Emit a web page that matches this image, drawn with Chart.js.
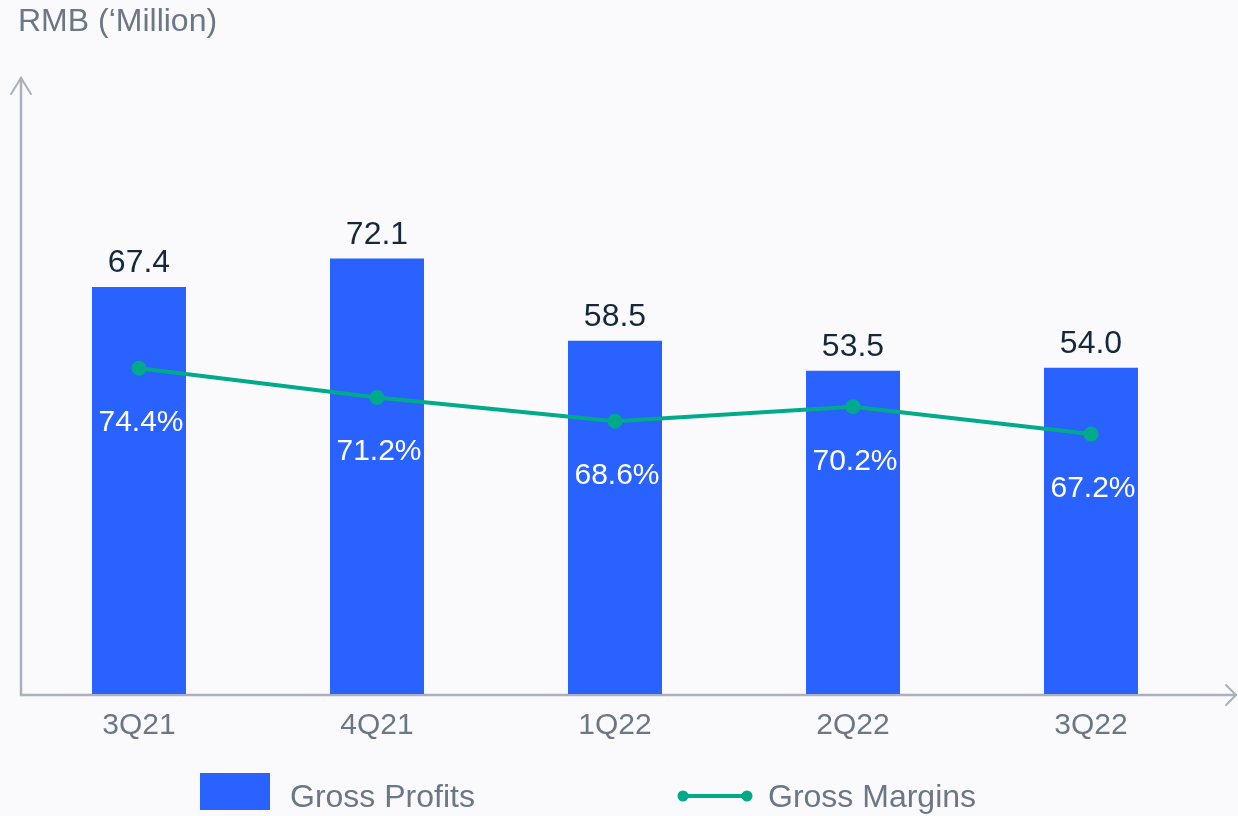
<!DOCTYPE html>
<html>
<head>
<meta charset="utf-8">
<script src="https://cdn.jsdelivr.net/npm/chart.js@4"></script>
<style>
	html, body { margin: 0; padding: 0; background: #fafafd; }
	#wrap { width: 1238px; height: 816px; }
</style>
</head>
<body>
<div id="wrap"><canvas id="chart"></canvas></div>
<script>
'use strict';

var QUARTERS = ['3Q21', '4Q21', '1Q22', '2Q22', '3Q22'];
var GROSS_PROFITS = [67.4, 72.1, 58.5, 53.5, 54.0];
var GROSS_MARGINS = [74.4, 71.2, 68.6, 70.2, 67.2];

var BLUE = '#2962ff';
var GREEN = '#00aa8a';
var AXIS = '#aab1ba';
var GREY_TEXT = '#6b7786';
var DARK_TEXT = '#15283b';
var FONT = '"Liberation Sans", Arial, sans-serif';

var decorations = {
	id: 'decorations',
	beforeDraw: function(chart) {
		var ctx = chart.ctx;
		ctx.save();
		ctx.fillStyle = '#fafafd';
		ctx.fillRect(0, 0, chart.width, chart.height);
		ctx.restore();
	},
	beforeDatasetsDraw: function(chart) {
		var ctx = chart.ctx;
		var area = chart.chartArea;
		var x0 = 21, y0 = area.bottom + 1;
		ctx.save();
		ctx.strokeStyle = AXIS;
		ctx.lineWidth = 2.5;
		ctx.lineCap = 'round';
		ctx.beginPath();
		ctx.moveTo(x0, 78);
		ctx.lineTo(x0, y0);
		ctx.lineTo(1236, y0);
		ctx.stroke();
		// arrow heads
		ctx.lineWidth = 2;
		ctx.beginPath();
		ctx.moveTo(x0 - 10, 94);
		ctx.lineTo(x0, 78);
		ctx.lineTo(x0 + 10, 94);
		ctx.moveTo(1226, y0 - 10);
		ctx.lineTo(1236, y0);
		ctx.lineTo(1226, y0 + 10);
		ctx.stroke();
		ctx.restore();
	},
	afterDraw: function(chart) {
		var ctx = chart.ctx;
		var bars = chart.getDatasetMeta(0).data;
		var points = chart.getDatasetMeta(1).data;
		var i;
		ctx.save();
		ctx.textAlign = 'left';
		ctx.textBaseline = 'alphabetic';
		ctx.fillStyle = GREY_TEXT;
		ctx.font = '32px ' + FONT;
		ctx.fillText('RMB (\u2018Million)', 18, 31);

		ctx.textAlign = 'center';
		for (i = 0; i < bars.length; ++i) {
			ctx.fillStyle = DARK_TEXT;
			ctx.font = '32px ' + FONT;
			ctx.fillText(GROSS_PROFITS[i].toFixed(1), bars[i].x, bars[i].y - 15);

			ctx.fillStyle = GREY_TEXT;
			ctx.font = '30px ' + FONT;
			ctx.fillText(QUARTERS[i], bars[i].x, 734);

			ctx.fillStyle = '#ffffff';
			ctx.font = '30px ' + FONT;
			ctx.fillText(GROSS_MARGINS[i].toFixed(1) + '%', points[i].x + 2, points[i].y + 63);
		}

		// legend
		ctx.fillStyle = BLUE;
		ctx.fillRect(200, 773, 70, 37);
		ctx.strokeStyle = GREEN;
		ctx.lineWidth = 4;
		ctx.beginPath();
		ctx.moveTo(683, 796);
		ctx.lineTo(747, 796);
		ctx.stroke();
		ctx.fillStyle = GREEN;
		ctx.beginPath();
		ctx.arc(683, 796, 5.5, 0, Math.PI * 2);
		ctx.arc(747, 796, 5.5, 0, Math.PI * 2);
		ctx.fill();

		ctx.textAlign = 'left';
		ctx.fillStyle = GREY_TEXT;
		ctx.font = '32px ' + FONT;
		ctx.fillText('Gross Profits', 290, 807);
		ctx.fillText('Gross Margins', 768, 807);
		ctx.restore();
	}
};

new Chart(document.getElementById('chart'), {
	type: 'bar',
	data: {
		labels: QUARTERS,
		datasets: [{
			label: 'Gross Profits',
			data: GROSS_PROFITS,
			backgroundColor: BLUE,
			yAxisID: 'y',
			order: 2,
			barPercentage: 1,
			categoryPercentage: 0.395
		}, {
			type: 'line',
			label: 'Gross Margins',
			data: GROSS_MARGINS,
			borderColor: GREEN,
			backgroundColor: GREEN,
			borderWidth: 4,
			pointRadius: 5.5,
			pointHoverRadius: 5.5,
			tension: 0,
			yAxisID: 'y2',
			order: 1
		}]
	},
	options: {
		responsive: true,
		maintainAspectRatio: false,
		animation: false,
		layout: {
			padding: { left: 20, right: 28, top: 90, bottom: 122 }
		},
		plugins: {
			legend: { display: false },
			tooltip: { enabled: false }
		},
		scales: {
			x: { display: false },
			y: { display: false, min: 0, max: 100 },
			y2: { display: false, position: 'right', min: 38.8, max: 104.8 }
		}
	},
	plugins: [decorations]
});
</script>
</body>
</html>
